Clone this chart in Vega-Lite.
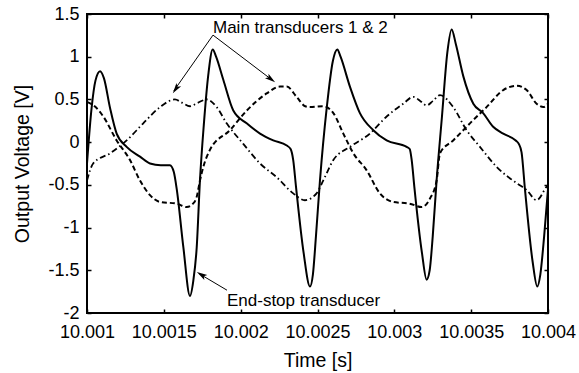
{
  "$schema": "https://vega.github.io/schema/vega-lite/v6.json",
  "width": 461,
  "height": 299,
  "autosize": "none",
  "padding": {"left": 87, "top": 14, "right": 31, "bottom": 60},
  "background": "white",
  "config": {
    "view": {"stroke": "black", "strokeWidth": 2},
    "font": "Liberation Sans",
    "axis": {"domain": false, "grid": false, "tickColor": "black", "labelColor": "black", "titleColor": "black", "labelFont": "Liberation Sans", "titleFont": "Liberation Sans", "labelFontSize": 18, "titleFontSize": 19.5, "titleFontWeight": "normal", "tickWidth": 1.5}
  },
  "datasets": {
    "curves": [
      {"t": 10.001000, "v": -0.25, "s": "end"},
      {"t": 10.001030, "v": 0.40, "s": "end"},
      {"t": 10.001055, "v": 0.72, "s": "end"},
      {"t": 10.001085, "v": 0.83, "s": "end"},
      {"t": 10.001110, "v": 0.75, "s": "end"},
      {"t": 10.001150, "v": 0.40, "s": "end"},
      {"t": 10.001193, "v": 0.10, "s": "end"},
      {"t": 10.001258, "v": -0.055, "s": "end"},
      {"t": 10.001345, "v": -0.17, "s": "end"},
      {"t": 10.001410, "v": -0.25, "s": "end"},
      {"t": 10.001480, "v": -0.27, "s": "end"},
      {"t": 10.001540, "v": -0.27, "s": "end"},
      {"t": 10.001565, "v": -0.35, "s": "end"},
      {"t": 10.001584, "v": -0.55, "s": "end"},
      {"t": 10.001627, "v": -1.23, "s": "end"},
      {"t": 10.001670, "v": -1.80, "s": "end"},
      {"t": 10.001692, "v": -1.62, "s": "end"},
      {"t": 10.001714, "v": -1.23, "s": "end"},
      {"t": 10.001735, "v": -0.45, "s": "end"},
      {"t": 10.001760, "v": 0.20, "s": "end"},
      {"t": 10.001790, "v": 0.80, "s": "end"},
      {"t": 10.001818, "v": 1.085, "s": "end"},
      {"t": 10.001840, "v": 1.00, "s": "end"},
      {"t": 10.001887, "v": 0.73, "s": "end"},
      {"t": 10.001952, "v": 0.37, "s": "end"},
      {"t": 10.002039, "v": 0.22, "s": "end"},
      {"t": 10.002126, "v": 0.10, "s": "end"},
      {"t": 10.002212, "v": 0.02, "s": "end"},
      {"t": 10.002300, "v": -0.04, "s": "end"},
      {"t": 10.002325, "v": -0.08, "s": "end"},
      {"t": 10.002342, "v": -0.21, "s": "end"},
      {"t": 10.002360, "v": -0.52, "s": "end"},
      {"t": 10.002410, "v": -1.30, "s": "end"},
      {"t": 10.002451, "v": -1.69, "s": "end"},
      {"t": 10.002470, "v": -1.55, "s": "end"},
      {"t": 10.002490, "v": -1.10, "s": "end"},
      {"t": 10.002516, "v": -0.45, "s": "end"},
      {"t": 10.002560, "v": 0.40, "s": "end"},
      {"t": 10.002600, "v": 0.95, "s": "end"},
      {"t": 10.002629, "v": 1.085, "s": "end"},
      {"t": 10.002650, "v": 1.00, "s": "end"},
      {"t": 10.002711, "v": 0.65, "s": "end"},
      {"t": 10.002776, "v": 0.34, "s": "end"},
      {"t": 10.002863, "v": 0.14, "s": "end"},
      {"t": 10.002950, "v": 0.02, "s": "end"},
      {"t": 10.003080, "v": -0.055, "s": "end"},
      {"t": 10.003100, "v": -0.08, "s": "end"},
      {"t": 10.003113, "v": -0.21, "s": "end"},
      {"t": 10.003130, "v": -0.52, "s": "end"},
      {"t": 10.003180, "v": -1.30, "s": "end"},
      {"t": 10.003210, "v": -1.61, "s": "end"},
      {"t": 10.003230, "v": -1.50, "s": "end"},
      {"t": 10.003250, "v": -1.10, "s": "end"},
      {"t": 10.003275, "v": -0.45, "s": "end"},
      {"t": 10.003310, "v": 0.30, "s": "end"},
      {"t": 10.003345, "v": 1.05, "s": "end"},
      {"t": 10.003373, "v": 1.32, "s": "end"},
      {"t": 10.003400, "v": 1.15, "s": "end"},
      {"t": 10.003449, "v": 0.77, "s": "end"},
      {"t": 10.003514, "v": 0.45, "s": "end"},
      {"t": 10.003578, "v": 0.34, "s": "end"},
      {"t": 10.003643, "v": 0.18, "s": "end"},
      {"t": 10.003709, "v": 0.10, "s": "end"},
      {"t": 10.003790, "v": 0.02, "s": "end"},
      {"t": 10.003810, "v": -0.02, "s": "end"},
      {"t": 10.003828, "v": -0.12, "s": "end"},
      {"t": 10.003850, "v": -0.55, "s": "end"},
      {"t": 10.003900, "v": -1.40, "s": "end"},
      {"t": 10.003930, "v": -1.69, "s": "end"},
      {"t": 10.003950, "v": -1.55, "s": "end"},
      {"t": 10.003975, "v": -1.10, "s": "end"},
      {"t": 10.004000, "v": -0.55, "s": "end"},

      {"t": 10.001000, "v": 0.47, "s": "m1"},
      {"t": 10.001050, "v": 0.42, "s": "m1"},
      {"t": 10.001106, "v": 0.30, "s": "m1"},
      {"t": 10.001193, "v": 0.02, "s": "m1"},
      {"t": 10.001280, "v": -0.21, "s": "m1"},
      {"t": 10.001345, "v": -0.45, "s": "m1"},
      {"t": 10.001410, "v": -0.62, "s": "m1"},
      {"t": 10.001475, "v": -0.70, "s": "m1"},
      {"t": 10.001584, "v": -0.72, "s": "m1"},
      {"t": 10.001649, "v": -0.76, "s": "m1"},
      {"t": 10.001690, "v": -0.72, "s": "m1"},
      {"t": 10.001714, "v": -0.64, "s": "m1"},
      {"t": 10.001735, "v": -0.45, "s": "m1"},
      {"t": 10.001757, "v": -0.29, "s": "m1"},
      {"t": 10.001800, "v": -0.09, "s": "m1"},
      {"t": 10.001930, "v": 0.14, "s": "m1"},
      {"t": 10.002040, "v": 0.37, "s": "m1"},
      {"t": 10.002169, "v": 0.57, "s": "m1"},
      {"t": 10.002256, "v": 0.65, "s": "m1"},
      {"t": 10.002300, "v": 0.65, "s": "m1"},
      {"t": 10.002364, "v": 0.53, "s": "m1"},
      {"t": 10.002420, "v": 0.42, "s": "m1"},
      {"t": 10.002451, "v": 0.41, "s": "m1"},
      {"t": 10.002537, "v": 0.42, "s": "m1"},
      {"t": 10.002603, "v": 0.34, "s": "m1"},
      {"t": 10.002668, "v": 0.10, "s": "m1"},
      {"t": 10.002733, "v": -0.13, "s": "m1"},
      {"t": 10.002820, "v": -0.33, "s": "m1"},
      {"t": 10.002906, "v": -0.60, "s": "m1"},
      {"t": 10.002993, "v": -0.70, "s": "m1"},
      {"t": 10.003100, "v": -0.72, "s": "m1"},
      {"t": 10.003178, "v": -0.76, "s": "m1"},
      {"t": 10.003232, "v": -0.66, "s": "m1"},
      {"t": 10.003275, "v": -0.45, "s": "m1"},
      {"t": 10.003297, "v": -0.13, "s": "m1"},
      {"t": 10.003383, "v": 0.02, "s": "m1"},
      {"t": 10.003492, "v": 0.22, "s": "m1"},
      {"t": 10.003600, "v": 0.41, "s": "m1"},
      {"t": 10.003709, "v": 0.61, "s": "m1"},
      {"t": 10.003796, "v": 0.66, "s": "m1"},
      {"t": 10.003861, "v": 0.61, "s": "m1"},
      {"t": 10.003926, "v": 0.45, "s": "m1"},
      {"t": 10.003970, "v": 0.41, "s": "m1"},
      {"t": 10.004000, "v": 0.45, "s": "m1"},

      {"t": 10.001000, "v": -0.45, "s": "m2"},
      {"t": 10.001040, "v": -0.25, "s": "m2"},
      {"t": 10.001150, "v": -0.13, "s": "m2"},
      {"t": 10.001258, "v": 0.02, "s": "m2"},
      {"t": 10.001366, "v": 0.22, "s": "m2"},
      {"t": 10.001475, "v": 0.41, "s": "m2"},
      {"t": 10.001572, "v": 0.50, "s": "m2"},
      {"t": 10.001620, "v": 0.46, "s": "m2"},
      {"t": 10.001670, "v": 0.42, "s": "m2"},
      {"t": 10.001720, "v": 0.46, "s": "m2"},
      {"t": 10.001779, "v": 0.50, "s": "m2"},
      {"t": 10.001844, "v": 0.41, "s": "m2"},
      {"t": 10.001909, "v": 0.22, "s": "m2"},
      {"t": 10.002017, "v": -0.02, "s": "m2"},
      {"t": 10.002126, "v": -0.25, "s": "m2"},
      {"t": 10.002234, "v": -0.41, "s": "m2"},
      {"t": 10.002342, "v": -0.60, "s": "m2"},
      {"t": 10.002418, "v": -0.68, "s": "m2"},
      {"t": 10.002494, "v": -0.60, "s": "m2"},
      {"t": 10.002537, "v": -0.45, "s": "m2"},
      {"t": 10.002603, "v": -0.21, "s": "m2"},
      {"t": 10.002711, "v": -0.055, "s": "m2"},
      {"t": 10.002841, "v": 0.10, "s": "m2"},
      {"t": 10.002950, "v": 0.30, "s": "m2"},
      {"t": 10.003058, "v": 0.45, "s": "m2"},
      {"t": 10.003123, "v": 0.53, "s": "m2"},
      {"t": 10.003170, "v": 0.48, "s": "m2"},
      {"t": 10.003210, "v": 0.43, "s": "m2"},
      {"t": 10.003250, "v": 0.48, "s": "m2"},
      {"t": 10.003297, "v": 0.55, "s": "m2"},
      {"t": 10.003383, "v": 0.41, "s": "m2"},
      {"t": 10.003470, "v": 0.14, "s": "m2"},
      {"t": 10.003557, "v": -0.055, "s": "m2"},
      {"t": 10.003666, "v": -0.29, "s": "m2"},
      {"t": 10.003796, "v": -0.48, "s": "m2"},
      {"t": 10.003861, "v": -0.56, "s": "m2"},
      {"t": 10.003926, "v": -0.68, "s": "m2"},
      {"t": 10.003991, "v": -0.52, "s": "m2"},
      {"t": 10.004000, "v": -0.50, "s": "m2"}
    ],
    "arrows": [
      {"id": "a1", "x": 10.001820, "y": 1.253, "x2": 10.001565, "y2": 0.60},
      {"id": "a2", "x": 10.001820, "y": 1.253, "x2": 10.002210, "y2": 0.72},
      {"id": "a3", "x": 10.001911, "y": -1.733, "x2": 10.001730, "y2": -1.54}
    ],
    "heads": [
      {"id": "a1", "x": 10.001578, "y": 0.622},
      {"id": "a2", "x": 10.002197, "y": 0.738},
      {"id": "a3", "x": 10.001744, "y": -1.553}
    ],
    "labels": [
      {"x": 10.001820, "y": 1.276, "text": "Main transducers 1 & 2"},
      {"x": 10.001911, "y": -1.915, "text": "End-stop transducer"}
    ]
  },
  "resolve": {"axis": {"x": "independent", "y": "independent"}},
  "layer": [
    {
      "data": {"name": "curves"},
      "transform": [{"filter": "datum.s === 'end'"}],
      "mark": {"type": "line", "color": "black", "strokeWidth": 2, "interpolate": "monotone", "clip": true},
      "encoding": {
        "x": {"field": "t", "type": "quantitative", "scale": {"domain": [10.001, 10.004], "nice": false, "zero": false},
          "axis": {"orient": "bottom", "title": "Time [s]", "values": [10.001, 10.0015, 10.002, 10.0025, 10.003, 10.0035, 10.004], "labelExpr": "'' + datum.value", "tickSize": -4, "labelPadding": 14, "titlePadding": 10, "labelFlush": false, "labelOverlap": false}},
        "y": {"field": "v", "type": "quantitative", "scale": {"domain": [-2, 1.5], "nice": false, "zero": false},
          "axis": {"orient": "left", "title": "Output Voltage [V]", "values": [-2, -1.5, -1, -0.5, 0, 0.5, 1, 1.5], "labelExpr": "'' + datum.value", "tickSize": -4, "labelPadding": 12, "titlePadding": 15, "labelFlush": false, "labelOverlap": false}}
      }
    },
    {
      "data": {"name": "curves"},
      "transform": [{"filter": "datum.s === 'm1'"}],
      "mark": {"type": "line", "color": "black", "strokeWidth": 2, "strokeDash": [5, 3], "interpolate": "monotone", "clip": true},
      "encoding": {
        "x": {"field": "t", "type": "quantitative", "axis": {"orient": "top", "title": null, "labels": false, "values": [10.001, 10.0015, 10.002, 10.0025, 10.003, 10.0035, 10.004], "tickSize": -4}},
        "y": {"field": "v", "type": "quantitative", "axis": {"orient": "right", "title": null, "labels": false, "values": [-2, -1.5, -1, -0.5, 0, 0.5, 1, 1.5], "tickSize": -4}}
      }
    },
    {
      "data": {"name": "curves"},
      "transform": [{"filter": "datum.s === 'm2'"}],
      "mark": {"type": "line", "color": "black", "strokeWidth": 1.8, "strokeDash": [6, 3, 1.5, 3], "interpolate": "monotone", "clip": true},
      "encoding": {
        "x": {"field": "t", "type": "quantitative", "axis": null},
        "y": {"field": "v", "type": "quantitative", "axis": null}
      }
    },
    {
      "data": {"name": "arrows"},
      "mark": {"type": "rule", "color": "black", "strokeWidth": 1},
      "encoding": {
        "x": {"field": "x", "type": "quantitative", "axis": null},
        "y": {"field": "y", "type": "quantitative", "axis": null},
        "x2": {"field": "x2"},
        "y2": {"field": "y2"}
      }
    },
    {
      "data": {"name": "heads"},
      "transform": [{"filter": "datum.id === 'a1'"}],
      "mark": {"type": "point", "shape": "M0,-1L0.55,1L0,0.55L-0.55,1Z", "filled": true, "color": "black", "opacity": 1, "size": 110, "angle": 214.6},
      "encoding": {
        "x": {"field": "x", "type": "quantitative", "axis": null},
        "y": {"field": "y", "type": "quantitative", "axis": null}
      }
    },
    {
      "data": {"name": "heads"},
      "transform": [{"filter": "datum.id === 'a2'"}],
      "mark": {"type": "point", "shape": "M0,-1L0.55,1L0,0.55L-0.55,1Z", "filled": true, "color": "black", "opacity": 1, "size": 110, "angle": 127},
      "encoding": {
        "x": {"field": "x", "type": "quantitative", "axis": null},
        "y": {"field": "y", "type": "quantitative", "axis": null}
      }
    },
    {
      "data": {"name": "heads"},
      "transform": [{"filter": "datum.id === 'a3'"}],
      "mark": {"type": "point", "shape": "M0,-1L0.55,1L0,0.55L-0.55,1Z", "filled": true, "color": "black", "opacity": 1, "size": 110, "angle": 301},
      "encoding": {
        "x": {"field": "x", "type": "quantitative", "axis": null},
        "y": {"field": "y", "type": "quantitative", "axis": null}
      }
    },
    {
      "data": {"name": "labels"},
      "mark": {"type": "text", "align": "left", "baseline": "alphabetic", "font": "Liberation Sans", "fontSize": 17, "color": "black"},
      "encoding": {
        "x": {"field": "x", "type": "quantitative", "axis": null},
        "y": {"field": "y", "type": "quantitative", "axis": null},
        "text": {"field": "text"}
      }
    }
  ]
}
